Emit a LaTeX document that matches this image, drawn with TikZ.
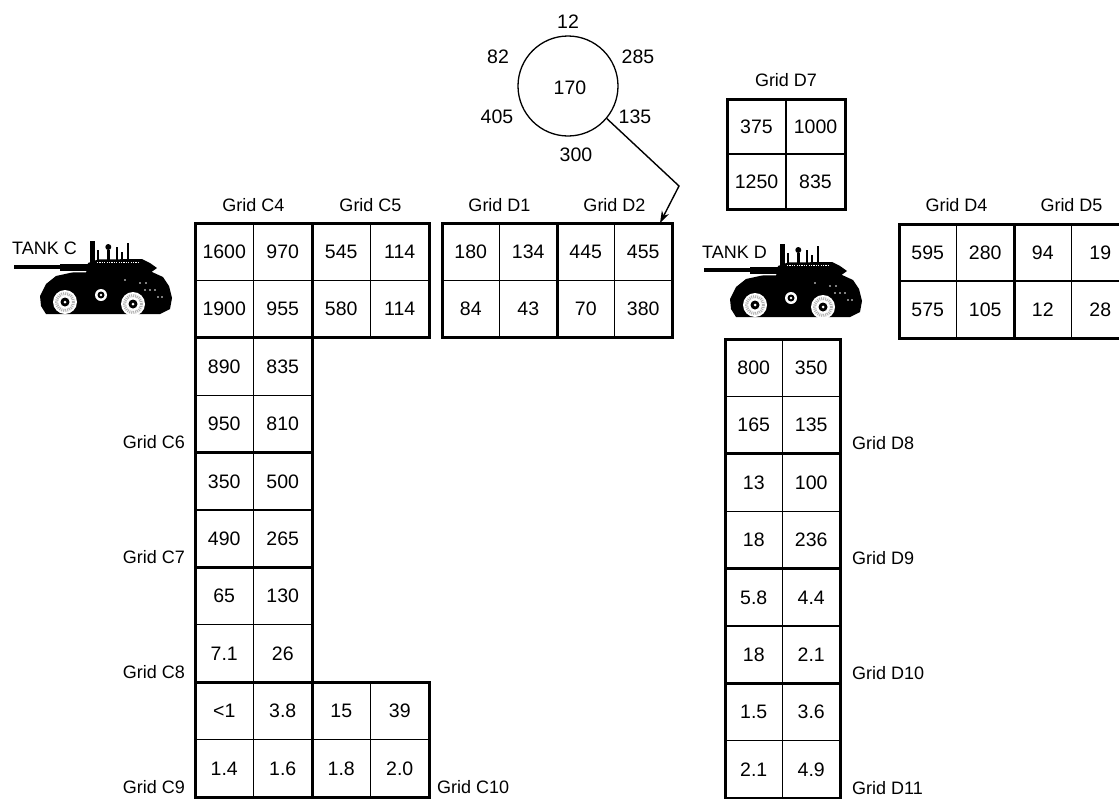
\documentclass[tikz,border=0pt]{standalone}
\usepackage{fontspec}
\setmainfont{Liberation Sans}
\usetikzlibrary{arrows.meta,calc}
\newcommand\gblk[9]{%
  \node[blk, anchor=north west, minimum width=2*#4, minimum height=2*#5] (#1) at (#2,#3) {};
  \draw[thinln] (#1.north) -- (#1.south) (#1.west) -- (#1.east);
  \node[num] (#1a) at ($(#1.north west)+(0.5*#4,0.5*#5)$) {#6};
  \node[num] (#1b) at ($(#1.north west)+(1.5*#4,0.5*#5)$) {#7};
  \node[num] (#1c) at ($(#1.north west)+(0.5*#4,1.5*#5)$) {#8};
  \node[num] (#1d) at ($(#1.north west)+(1.5*#4,1.5*#5)$) {#9};
}
\begin{document}
\begin{tikzpicture}[x=1pt,y=-1pt,
  lbl/.style={font=\fontsize{18}{20}\selectfont, inner sep=0pt},
  num/.style={font=\fontsize{19.5}{21}\selectfont, inner sep=0pt},
  blk/.style={draw, line width=3pt, inner sep=0pt, outer sep=0pt},
  thinln/.style={line width=1.1pt},
  ring/.style={draw, circle, line width=1.3pt, minimum size=100pt, inner sep=0pt},
  conn/.style={line width=1.4pt, -{Stealth[length=12pt,width=8pt]}},
  tank/.pic={
    \fill (14,265) rectangle (62,269);
    \fill (60,263.5) rectangle (90,270.5);
    \fill (86,273) -- (88,263) -- (98,259.5) -- (142,259) -- (150,263) -- (157,268) -- (150,273) -- cycle;
    \fill (90,241) rectangle (94.5,262);
    \fill (97,250) rectangle (99,262);
    \fill (107,250) rectangle (109.5,262);
    \fill (108.3,247) circle (3);
    \fill (116,247) rectangle (118,262);
    \fill (127,243) rectangle (129,262);
    \fill (121,252) rectangle (123,262);
    \draw[white, line width=1.2pt, dash pattern=on 1.2pt off 1.2pt] (97,262.5) -- (140,262.5);
    \fill (40,296) -- (46,284) -- (56,276) -- (72,272.5) -- (152,272) -- (163,277) -- (169,286) -- (172,298) -- (170,309) -- (160,314) -- (46,314) -- (41,306) -- cycle;
    \fill[white] (145,290) circle (0.9) (150,290) circle (0.9) (155,290) circle (0.9)
                 (140,283) circle (0.9) (146,283) circle (0.9) (125,280) circle (0.9)
                 (158,297) circle (0.9) (162,297) circle (0.9);
    \foreach \cx/\cy in {65/302,133/304}{
      \fill[white] (\cx,\cy) circle (12);
      \draw[gray!60, line width=3pt, dash pattern=on 1pt off 1pt] (\cx,\cy) circle (8.5);
      \fill (\cx,\cy) circle (4.5);
      \fill[white] (\cx,\cy) circle (1.5);
    }
    \fill[white] (101,295) circle (6);
    \fill (101,295) circle (3.5);
    \fill[white] (101,295) circle (1.3);
  }
]
\clip (0,0) rectangle (1119,798);
\fill[white] (0,0) rectangle (1119,798);

% C grids
\gblk{C4}{195}{223}{58.5}{57.4}{1600}{970}{1900}{955}
\gblk{C5}{312}{223}{58.5}{57.4}{545}{114}{580}{114}
\gblk{C6}{195}{337.8}{58.5}{57.4}{890}{835}{950}{810}
\gblk{C7}{195}{452.6}{58.5}{57.4}{350}{500}{490}{265}
\gblk{C8}{195}{567.4}{58.5}{57.4}{65}{130}{7.1}{26}
\gblk{C9}{195}{682.2}{58.5}{57.4}{\textless1}{3.8}{1.4}{1.6}
\gblk{C10}{312}{682.2}{58.5}{57.4}{15}{39}{1.8}{2.0}
% D grids
\gblk{D1}{442}{223}{57.5}{57.4}{180}{134}{84}{43}
\gblk{D2}{557}{223}{57.5}{57.4}{445}{455}{70}{380}
\gblk{D7}{727}{99}{59}{55}{375}{1000}{1250}{835}
\gblk{D4}{899}{224}{57.5}{57}{595}{280}{575}{105}
\gblk{D5}{1014}{224}{57.5}{57}{94}{19}{12}{28}
\gblk{D8}{725}{339}{57.5}{57.4}{800}{350}{165}{135}
\gblk{D9}{725}{453.8}{57.5}{57.4}{13}{100}{18}{236}
\gblk{D10}{725}{568.6}{57.5}{57.4}{5.8}{4.4}{18}{2.1}
\gblk{D11}{725}{683.4}{57.5}{57.4}{1.5}{3.6}{2.1}{4.9}

% grid labels above
\node[lbl] (lC4) at ($(C4.north)+(0,-18)$) {Grid C4};
\node[lbl] (lC5) at ($(C5.north)+(0,-18)$) {Grid C5};
\node[lbl] (lD1) at ($(D1.north)+(0,-18)$) {Grid D1};
\node[lbl] (lD2) at ($(D2.north)+(0,-18)$) {Grid D2};
\node[lbl] (lD7) at ($(D7.north)+(0,-19)$) {Grid D7};
\node[lbl] (lD4) at ($(D4.north)+(0,-19)$) {Grid D4};
\node[lbl] (lD5) at ($(D5.north)+(0,-19)$) {Grid D5};
% side labels
\node[lbl, anchor=east] (lC6) at (185,442) {Grid C6};
\node[lbl, anchor=east] (lC7) at (185,557) {Grid C7};
\node[lbl, anchor=east] (lC8) at (185,672) {Grid C8};
\node[lbl, anchor=east] (lC9) at (185,787) {Grid C9};
\node[lbl, anchor=west] (lC10) at (437,787) {Grid C10};
\node[lbl, anchor=west] (lD8) at (852,443) {Grid D8};
\node[lbl, anchor=west] (lD9) at (852,558) {Grid D9};
\node[lbl, anchor=west] (lD10) at (852,673) {Grid D10};
\node[lbl, anchor=west] (lD11) at (852,788) {Grid D11};

% tanks
\pic (tankC) at (0,0) {tank};
\pic (tankD) at (690,3) {tank};
\node[lbl, anchor=west] (tC) at (12,248) {TANK C};
\node[lbl, anchor=west] (tD) at (702,252) {TANK D};

% circle
\node[ring] (circ) at (568,86) {};
\node[num] (c0) at (570,88) {170};
\node[num] (c1) at (568,22) {12};
\node[num] (c2) at (498,57) {82};
\node[num] (c3) at (638,57) {285};
\node[num] (c4) at (497,117) {405};
\node[num] (c5) at (635,117) {135};
\node[num] (c6) at (576,155) {300};
\coordinate (bend) at (679,186);
\coordinate (tip) at ($(D2.north east)+(-12,0)$);
\draw[conn] (circ.-40) -- (bend) -- (tip);
\end{tikzpicture}
\end{document}
